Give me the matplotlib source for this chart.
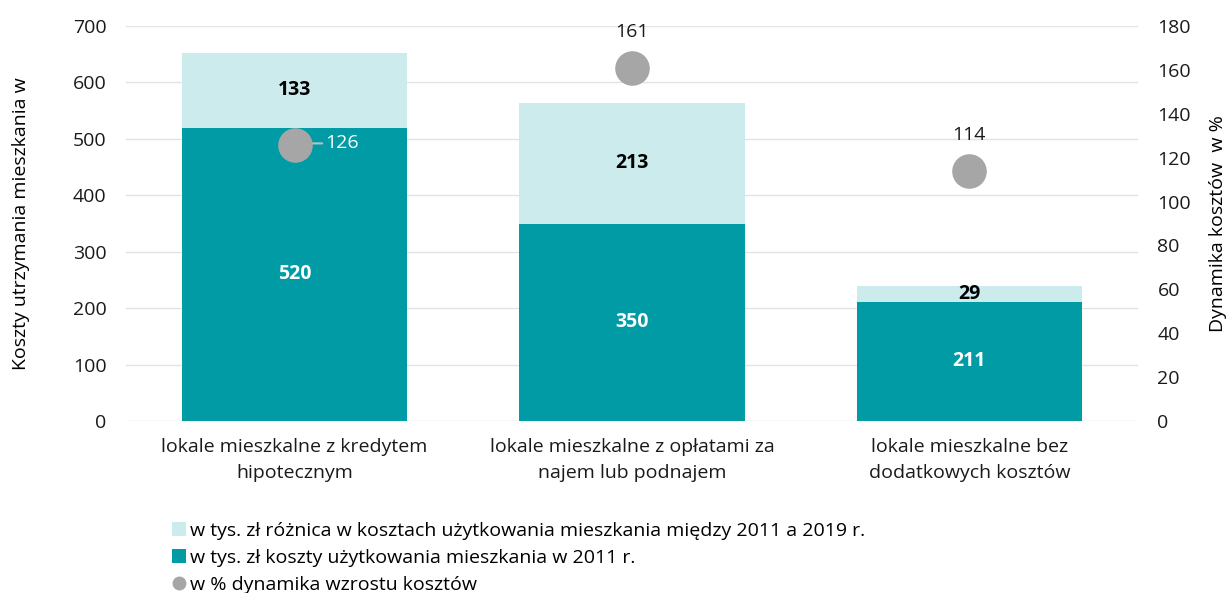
import matplotlib
matplotlib.use("Agg")
import matplotlib.pyplot as plt
from matplotlib.patches import Patch
from matplotlib.lines import Line2D

plt.rcParams['font.family'] = ['Open Sans', 'DejaVu Sans']

categories = ["lokale mieszkalne z kredytem\nhipotecznym",
              "lokale mieszkalne z opłatami za\nnajem lub podnajem",
              "lokale mieszkalne bez\ndodatkowych kosztów"]
base_2011 = [520, 350, 211]
diff = [133, 213, 29]
dynamics = [126, 161, 114]

left_ticks = [0, 100, 200, 300, 400, 500, 600, 700]
right_ticks = [0, 20, 40, 60, 80, 100, 120, 140, 160, 180]

dark = "#009BA4"
light = "#CCEBEC"
gray = "#A6A6A6"
fs = 14

fig = plt.figure(figsize=(12.31, 5.93), dpi=100)
ax = fig.add_axes([126/1231, 1-421/593, 1012/1231, 395/593])
x = list(range(len(categories)))
w = 0.667
ax.bar(x, base_2011, width=w, color=dark, zorder=2)
ax.bar(x, diff, width=w, bottom=base_2011, color=light, zorder=2)
ax.set_ylim(0, 700)
ax.set_xlim(-0.5, 2.5)
ax.set_yticks(left_ticks)
ax.yaxis.grid(True, color="#E3E3E3", linewidth=1)
ax.set_axisbelow(True)
for s in ax.spines.values():
    s.set_visible(False)
ax.tick_params(axis='both', length=0, labelsize=fs, colors="#1a1a1a", pad=12)
ax.tick_params(axis='y', pad=14)
ax.set_xticks(x)
ax.set_xticklabels(categories, fontsize=fs, linespacing=1.6)
ax.set_ylabel("Koszty utrzymania mieszkania w", fontsize=fs, labelpad=31)

for i in x:
    ax.text(i, base_2011[i] / 2, str(base_2011[i]), ha='center', va='center',
            color='white', fontsize=fs, fontweight='bold', zorder=5)
    ax.text(i, base_2011[i] + diff[i] / 2, str(diff[i]), ha='center', va='center',
            color='black', fontsize=fs, fontweight='bold', zorder=5)

ax2 = ax.twinx()
ax2.set_ylim(0, 180)
ax2.set_yticks(right_ticks)
for s in ax2.spines.values():
    s.set_visible(False)
ax2.tick_params(axis='y', length=0, labelsize=fs, colors="#1a1a1a", pad=14)
ax2.set_ylabel("Dynamika kosztów  w %", fontsize=fs, labelpad=13)
ax2.scatter(x, dynamics, s=620, color=gray, zorder=4, linewidths=0)

ax2.annotate(str(dynamics[0]), xy=(x[0] + 0.04, dynamics[0] + 0.5), xytext=(x[0] + 0.09, dynamics[0] + 0.5),
             ha='left', va='center', color='white', fontsize=fs,
             arrowprops=dict(arrowstyle='-', color='#BFBFBF', lw=1.5, shrinkA=0, shrinkB=0))
for i in x[1:]:
    ax2.annotate(str(dynamics[i]), xy=(i, dynamics[i]), xytext=(0, 19),
                 textcoords='offset points', ha='center', va='bottom', fontsize=fs, color='#1a1a1a')

handles = [Patch(facecolor=light, edgecolor='none'),
           Patch(facecolor=dark, edgecolor='none'),
           Line2D([], [], marker='o', linestyle='none', markersize=10,
                  markerfacecolor=gray, markeredgecolor='none')]
labels = ["w tys. zł różnica w kosztach użytkowania mieszkania między 2011 a 2019 r.",
          "w tys. zł koszty użytkowania mieszkania w 2011 r.",
          "w % dynamika wzrostu kosztów"]
fig.legend(handles, labels, loc='upper left', bbox_to_anchor=(172/1231, 1-522/593),
           frameon=False, fontsize=fs, handlelength=0.7, handleheight=0.7,
           handletextpad=0.2, labelspacing=0.46, borderaxespad=0, borderpad=0)

fig.savefig("out.png", dpi=100)
